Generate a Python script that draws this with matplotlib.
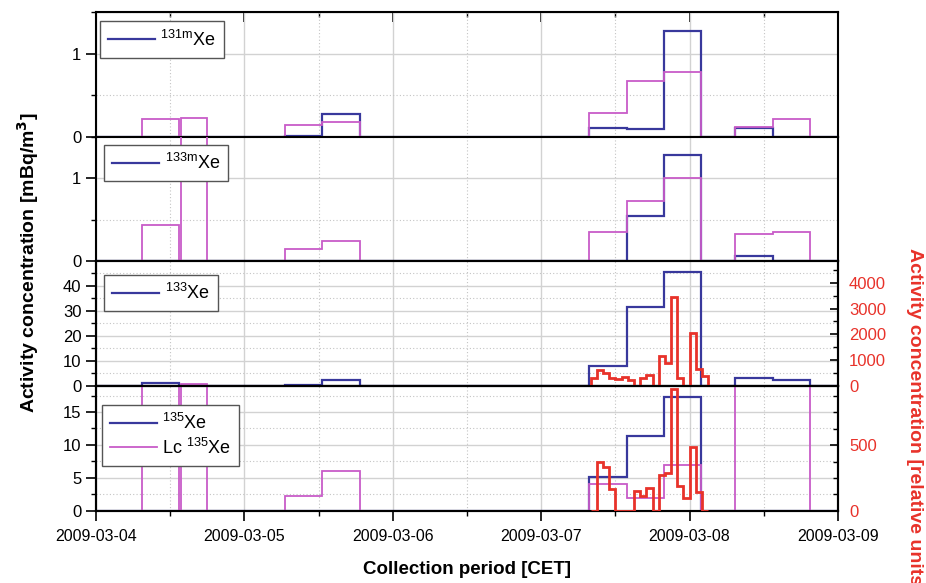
import numpy as np
import matplotlib
matplotlib.use('Agg')
import matplotlib.pyplot as plt
import matplotlib.dates as mdates
from matplotlib.ticker import MultipleLocator

plt.rcParams['font.family'] = ['Liberation Sans', 'DejaVu Sans']
plt.rcParams['mathtext.fontset'] = 'custom'
plt.rcParams['mathtext.rm'] = 'Liberation Sans'

# sampling periods, hours after 2009-03-04 00:00 CET
sample_start = [7.4, 13.7, 30.6, 36.6, 79.8, 85.8, 91.8, 103.4, 109.5]
sample_stop = [13.5, 17.9, 36.6, 42.7, 85.8, 91.8, 97.8, 109.5, 115.4]

# measured activity concentration and decision limit (Lc), mBq/m3
xe131m = [0, 0, 0.01, 0.27, 0.10, 0.093, 1.27, 0.105, 0]
lc131m = [0.213, 0.225, 0.14, 0.18, 0.28, 0.67, 0.78, 0.12, 0.21]
xe133m = [0, 0, 0, 0, 0, 0.545, 1.28, 0.06, 0]
lc133m = [0.44, 2.5, 0.15, 0.24, 0.354, 0.73, 1.0, 0.33, 0.354]
xe133 = [1.0, 0, 0.3, 2.1, 8.0, 31.3, 45.3, 3.1, 2.1]
lc133 = [0, 0.6, 0, 0, 0, 0, 0, 0, 0]
xe135 = [0, 0, 0, 0, 5.2, 11.4, 17.3, 0, 0]
lc135 = [40, 40, 2.3, 6.0, 4.1, 1.9, 6.9, 40, 40]

# hourly relative concentration (red), bins starting at these hours
red_hours = list(range(80, 100))
red133 = [300, 620, 490, 300, 280, 330, 220, 0, 300, 400,
          0, 1160, 900, 3440, 300, 0, 2045, 660, 360]
red135 = [0, 375, 330, 165, 0, 0, 0, 152, 116, 172,
          0, 273, 286, 927, 185, 96, 484, 142, 0]

T0 = mdates.date2num(np.datetime64('2009-03-04T00:00'))
BLUE = '#38389c'
MAG = '#c85cc8'
RED = '#e8322a'


def hnum(h):
    return T0 + np.asarray(h, dtype=float) / 24.0


def to_steps(start, stop, vals, end=120.0):
    edges = [0.0]
    values = []
    for a, b, v in zip(start, stop, vals):
        if a > edges[-1] + 1e-9:
            edges.append(a)
            values.append(0.0)
        edges.append(b)
        values.append(v)
    edges.append(end)
    values.append(0.0)
    return hnum(edges), np.array(values)


fig = plt.figure(figsize=(9.26, 5.83), dpi=100)
W, H = 926.0, 583.0
left, width = 96 / W, 742 / W
tops = [12, 136.5, 261, 386]

series = [(xe131m, lc131m, 1.5, 1, 0.5, r'$^{\mathrm{131m}}$Xe', (0.005, 0.925)),
          (xe133m, lc133m, 1.5, 1, 0.5, r'$^{\mathrm{133m}}$Xe', (0.011, 0.935)),
          (xe133, lc133, 49.8, 10, 5, r'$^{\mathrm{133}}$Xe', (0.011, 0.89)),
          (xe135, lc135, 18.95, 5, 2.5, r'$^{\mathrm{135}}$Xe', (0.008, 0.85))]

axes = []
for i, (xe, lc, ymax, maj, mnr, lab, anchor) in enumerate(series):
    ax = fig.add_axes([left, 1 - (tops[i] + 124.75) / H, width, 124.75 / H])
    axes.append(ax)
    e, v = to_steps(sample_start, sample_stop, xe)
    hb = ax.stairs(v, e, color=BLUE, lw=1.6, label=lab, zorder=3)
    e, v = to_steps(sample_start, sample_stop, lc)
    hm = ax.stairs(v, e, color=MAG, lw=1.3, label=r'Lc $^{\mathrm{135}}$Xe', zorder=4)
    ax.set_xlim(hnum(0), hnum(120))
    ax.set_ylim(0, ymax)
    ax.yaxis.set_major_locator(MultipleLocator(maj))
    ax.yaxis.set_minor_locator(MultipleLocator(mnr))
    ax.xaxis.set_major_locator(mdates.DayLocator())
    ax.xaxis.set_minor_locator(mdates.HourLocator(byhour=[12]))
    ax.xaxis.set_major_formatter(mdates.DateFormatter('%Y-%m-%d'))
    ax.set_axisbelow(True)
    ax.grid(which='major', color='#d2d2d2', lw=1.0, ls='-')
    ax.grid(which='minor', color='#c4c4c4', lw=0.8, ls=(0, (1, 2)))
    ax.tick_params(axis='both', which='major', direction='out', length=7, width=1.2)
    ax.tick_params(axis='both', which='minor', direction='out', length=3.5, width=1.0)
    ax.tick_params(axis='y', labelsize=12)
    ax.tick_params(axis='x', labelsize=11.5, labelbottom=(i == 3), pad=6)
    for s in ax.spines.values():
        s.set_linewidth(1.5)
    if i == 3:
        handles = [hb, hm]
    else:
        handles = [hb]
    ax.legend(handles=handles, loc='upper left', bbox_to_anchor=anchor,
              borderaxespad=0, fontsize=13, fancybox=False, edgecolor='#555555',
              framealpha=1, handlelength=2.6, handletextpad=0.3,
              borderpad=0.45, labelspacing=0.25)

sec = axes[0].secondary_xaxis('top')
sec.xaxis.set_major_locator(mdates.DayLocator())
sec.xaxis.set_minor_locator(mdates.HourLocator(byhour=[12]))
sec.tick_params(which='major', direction='in', length=7, width=1.2, labeltop=False)
sec.tick_params(which='minor', direction='in', length=3.5, width=1.0)

# red relative concentration on right axes
for ax, vals, ymax, maj, mnr in [(axes[2], red133, 4850, 1000, 500),
                                 (axes[3], red135, 950, 500, 125)]:
    axr = ax.twinx()
    axr.stairs(vals, hnum(red_hours), color=RED, lw=2.0, zorder=5)
    axr.set_ylim(0, ymax)
    axr.yaxis.set_major_locator(MultipleLocator(maj))
    axr.yaxis.set_minor_locator(MultipleLocator(mnr))
    axr.tick_params(axis='y', which='major', direction='in', length=6, width=1.2,
                    labelsize=12, labelcolor=RED, pad=8)
    axr.tick_params(axis='y', which='minor', direction='in', length=3.5, width=1.0)
    for s in axr.spines.values():
        s.set_linewidth(1.5)

fig.text(28 / W, 1 - 263 / H, r'Activity concentration [mBq/m$^\mathbf{3}$]',
         rotation=90, ha='center', va='center', fontsize=14, fontweight='bold')
fig.text(915 / W, 1 - 420 / H, 'Activity concentration [relative units]',
         rotation=270, ha='center', va='center', fontsize=14, fontweight='bold',
         color=RED)
fig.text(467 / W, 1 - 570 / H, 'Collection period [CET]',
         ha='center', va='center', fontsize=13.5, fontweight='bold')

fig.savefig('out.png', dpi=100)
